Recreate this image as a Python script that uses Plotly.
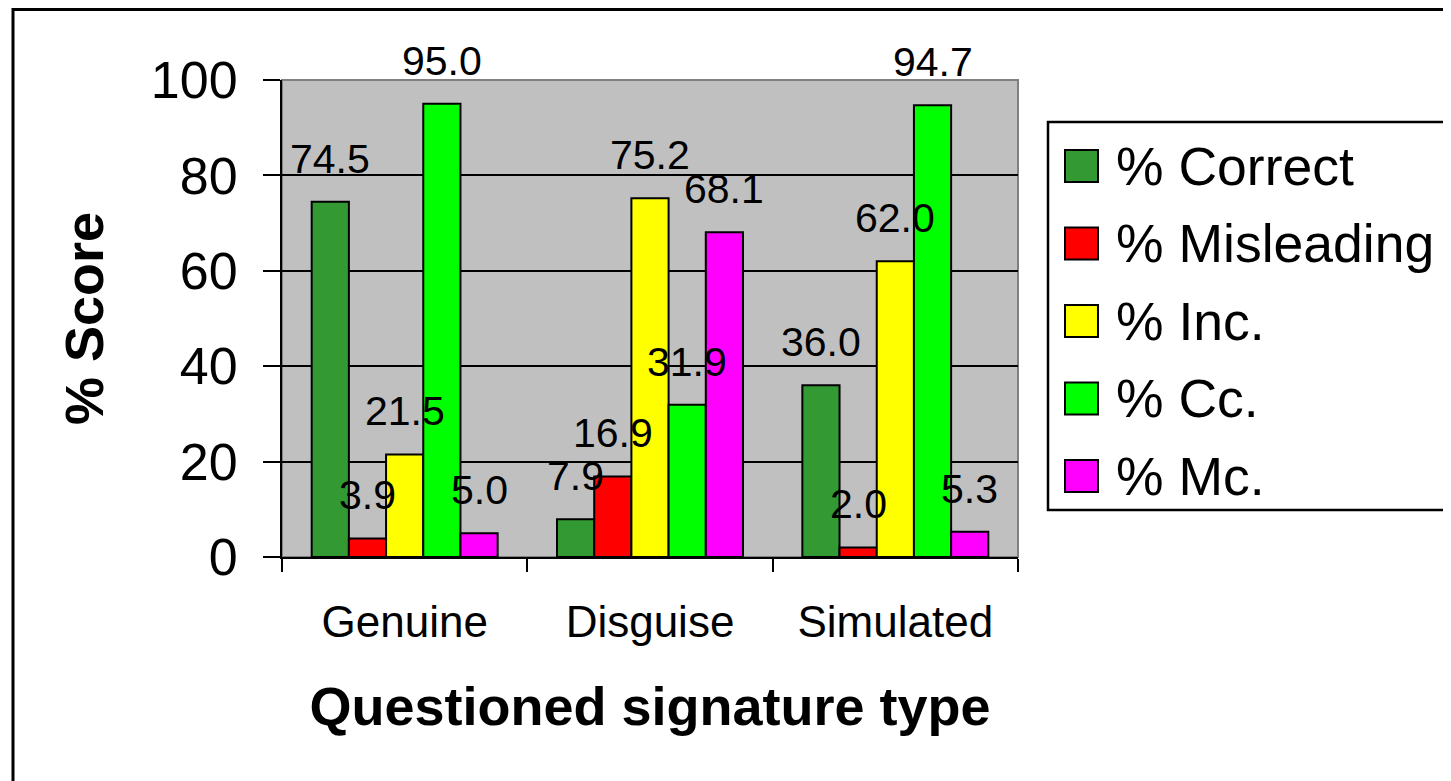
import plotly.graph_objects as go

categories = ["Genuine", "Disguise", "Simulated"]
series_names = ["% Correct", "% Misleading", "% Inc.", "% Cc.", "% Mc."]
correct = [74.5, 7.9, 36.0]
misleading = [3.9, 16.9, 2.0]
inc = [21.5, 75.2, 62.0]
cc = [95.0, 31.9, 94.7]
mc = [5.0, 68.1, 5.3]
y_ticks = [0, 20, 40, 60, 80, 100]

series = [correct, misleading, inc, cc, mc]
colors = ["#339933", "#FF0000", "#FFFF00", "#00FF00", "#FF00FF"]

FONT = "Arial, Liberation Sans, sans-serif"
W, H = 1451, 781
OFF = 8  # page body margin
# plot area in screen pixels
PX0, PX1, PY0, PY1 = 282, 1018, 80, 557
L, T = PX0 - OFF, PY0 - OFF
R, B = W - (PX1 - OFF), H - (PY1 - OFF)
BARGAP = 0.242

fig = go.Figure()
for name, vals, col in zip(series_names, series, colors):
    fig.add_trace(go.Bar(
        x=categories, y=vals, name=name, showlegend=False,
        marker=dict(color=col, line=dict(color="black", width=2)),
    ))

# value labels above each bar, placed on the category axis
n = len(series)
slot = (1 - BARGAP) / n
for i, vals in enumerate(series):
    for j, v in enumerate(vals):
        fig.add_annotation(
            x=j + (i - (n - 1) / 2) * slot, y=v, xref="x", yref="y",
            text=f"{v:.1f}", showarrow=False, yanchor="bottom", yshift=18,
            font=dict(family=FONT, size=41, color="black"),
        )


def px_x(p):
    return (p - PX0) / (PX1 - PX0)


def px_y(p):
    return (PY1 - p) / (PY1 - PY0)


# outer chart frame
fig.add_shape(type="rect", xref="paper", yref="paper",
              x0=px_x(13), x1=px_x(1470), y0=px_y(800), y1=px_y(9.5),
              line=dict(color="black", width=3), layer="below")
# plot area border
fig.add_shape(type="rect", xref="paper", yref="paper", x0=0, x1=1, y0=0, y1=1,
              line=dict(color="#808080", width=2), layer="below")

# legend
fig.add_shape(type="rect", xref="paper", yref="paper",
              x0=px_x(1048), x1=px_x(1450), y0=px_y(510), y1=px_y(122),
              line=dict(color="black", width=2.5), fillcolor="white")
for i, (name, col) in enumerate(zip(series_names, colors)):
    yc = 166 + i * 77.5
    fig.add_shape(type="rect", xref="paper", yref="paper",
                  x0=px_x(1065), x1=px_x(1098), y0=px_y(yc + 16), y1=px_y(yc - 16),
                  line=dict(color="black", width=2), fillcolor=col)
    fig.add_annotation(x=px_x(1114), y=px_y(yc), xref="paper", yref="paper",
                       text=name, showarrow=False, xanchor="left", yanchor="middle",
                       font=dict(family=FONT, size=53.5, color="black"))

fig.update_layout(
    width=W, height=H,
    margin=dict(l=L, r=R, t=T, b=B, autoexpand=False),
    paper_bgcolor="white", plot_bgcolor="#C0C0C0",
    barmode="group", bargap=BARGAP, bargroupgap=0,
    font=dict(family=FONT, color="black"),
    showlegend=False,
)
fig.update_xaxes(
    showline=True, linecolor="black", linewidth=2,
    ticks="outside", tickson="boundaries", ticklen=13, tickwidth=2, tickcolor="black",
    tickfont=dict(size=44), ticklabelstandoff=25,
    title=dict(text="<b>Questioned signature type</b>", font=dict(size=54), standoff=42),
    automargin=False,
)
fig.update_yaxes(
    range=[0, 100], tickvals=y_ticks,
    showline=True, linecolor="black", linewidth=2,
    showgrid=True, gridcolor="black", gridwidth=2, zeroline=False,
    ticks="outside", ticklen=17, tickwidth=2, tickcolor="black",
    tickfont=dict(size=52), ticklabelstandoff=15,
    title=dict(text="<b>% Score</b>", font=dict(size=54), standoff=30),
    automargin=False,
)

fig.write_html("out.html")
